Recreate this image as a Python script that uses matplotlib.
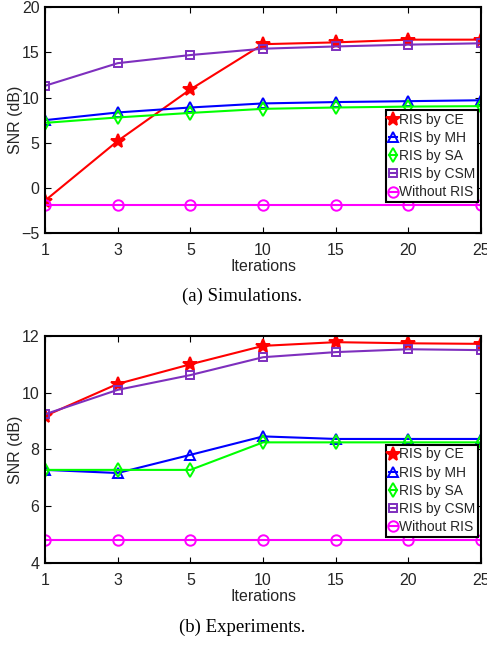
import matplotlib
matplotlib.use("Agg")
import matplotlib.pyplot as plt

iter_labels = ["1", "3", "5", "10", "15", "20", "25"]
series_names = ["RIS by CE", "RIS by MH", "RIS by SA", "RIS by CSM", "Without RIS"]

# (a) Simulations
sim_ce = [-1.4, 5.2, 10.9, 15.9, 16.1, 16.4, 16.4]
sim_mh = [7.5, 8.35, 8.9, 9.35, 9.5, 9.6, 9.7]
sim_sa = [7.2, 7.8, 8.3, 8.75, 8.9, 9.0, 9.05]
sim_csm = [11.3, 13.8, 14.7, 15.4, 15.65, 15.85, 16.0]
sim_wo = [-1.9, -1.9, -1.9, -1.9, -1.9, -1.9, -1.9]

# (b) Experiments
exp_ce = [9.18, 10.31, 11.0, 11.65, 11.78, 11.74, 11.72]
exp_mh = [7.28, 7.17, 7.81, 8.46, 8.37, 8.37, 8.37]
exp_sa = [7.28, 7.28, 7.28, 8.25, 8.25, 8.25, 8.25]
exp_csm = [9.24, 10.1, 10.62, 11.25, 11.43, 11.53, 11.5]
exp_wo = [4.82, 4.82, 4.82, 4.82, 4.82, 4.82, 4.82]

styles = [
    dict(color="#ff0000", marker="*", ms=10),
    dict(color="#0000ff", marker="^", ms=7.5, mfc="none"),
    dict(color="#00ff00", marker="d", ms=7.5, mfc="none"),
    dict(color="#7e2fbe", marker="s", ms=6, mfc="none"),
    dict(color="#ff00ff", marker="o", ms=7.5, mfc="none"),
]

plt.rcParams["font.family"] = ["Liberation Sans", "DejaVu Sans"]
txt = "#262626"

fig = plt.figure(figsize=(4.87, 6.46), dpi=100)

def draw(ax, data, ylim, yticks, legend_anchor):
    x = list(range(len(iter_labels)))
    for name, vals, st in zip(series_names, data, styles):
        ax.plot(x, vals, label=name, lw=1.5, mew=1.4, **st)
    ax.set_xlim(0, len(iter_labels) - 1)
    ax.set_ylim(*ylim)
    ax.set_xticks(x)
    ax.set_xticklabels(iter_labels)
    ax.set_yticks(yticks)
    ax.tick_params(direction="in", top=True, right=True, labelsize=11.5, length=4,
                   labelcolor=txt)
    ax.tick_params(axis="x", pad=7)
    ax.tick_params(axis="y", pad=4)
    for s in ax.spines.values():
        s.set_linewidth(1.5)
    ax.set_xlabel("Iterations", fontsize=11.5, color=txt)
    ax.set_ylabel("SNR (dB)", fontsize=11.5, color=txt)
    ax.xaxis.set_label_coords(0.5, -0.115)
    ax.yaxis.set_label_coords(-0.05, 0.5)
    leg = ax.legend(loc="lower left", bbox_to_anchor=legend_anchor, fontsize=10,
                    handlelength=0.6, handletextpad=0.1, borderpad=0.2,
                    labelspacing=0.3, borderaxespad=0, fancybox=False,
                    framealpha=1, edgecolor="black")
    leg.get_frame().set_linewidth(1.5)
    for t in leg.get_texts():
        t.set_color(txt)

ax1 = fig.add_axes([0.0924, 0.639, 0.8956, 0.350])
draw(ax1, [sim_ce, sim_mh, sim_sa, sim_csm, sim_wo], (-5, 20), [-5, 0, 5, 10, 15, 20], (0.782, 0.137))
fig.text(0.498, 0.541, "(a) Simulations.", ha="center", va="center",
         fontsize=13.5, family="Liberation Serif")

ax2 = fig.add_axes([0.0924, 0.1285, 0.8956, 0.3515])
draw(ax2, [exp_ce, exp_mh, exp_sa, exp_csm, exp_wo], (4, 12), [4, 6, 8, 10, 12], (0.782, 0.115))
fig.text(0.498, 0.029, "(b) Experiments.", ha="center", va="center",
         fontsize=13.5, family="Liberation Serif")

fig.savefig("out.png", dpi=100)
